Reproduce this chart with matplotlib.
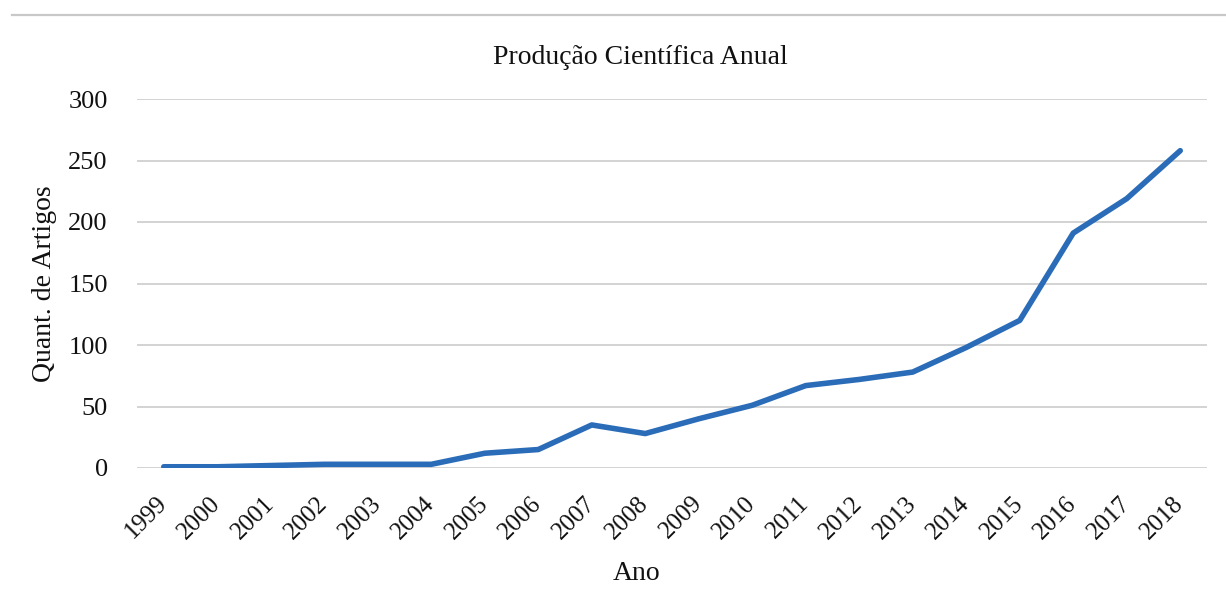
import matplotlib
matplotlib.use("Agg")
import matplotlib.pyplot as plt
from matplotlib.lines import Line2D

# Annual scientific output: number of articles per year
anos = ["1999", "2000", "2001", "2002", "2003", "2004", "2005", "2006", "2007", "2008",
        "2009", "2010", "2011", "2012", "2013", "2014", "2015", "2016", "2017", "2018"]
artigos = [1, 1, 2, 3, 3, 3, 12, 15, 35, 28,
           40, 51, 67, 72, 78, 98, 120, 191, 219, 258]
y_ticks = [0, 50, 100, 150, 200, 250, 300]

plt.rcParams["font.family"] = ["Liberation Serif", "DejaVu Serif"]

W, H, DPI = 1226, 604, 100
fig = plt.figure(figsize=(W / DPI, H / DPI), dpi=DPI)
fig.patch.set_facecolor("white")

# plot area in figure pixels
left_px, right_px, top_px, bottom_px = 137, 1207, 99, 468
ax = fig.add_axes([left_px / W, 1 - bottom_px / H,
                   (right_px - left_px) / W, (bottom_px - top_px) / H])

x = list(range(len(anos)))
ax.plot(x, artigos, color="#2A6CB8", linewidth=4.0, solid_capstyle="round",
        solid_joinstyle="round", zorder=3)

ax.set_xlim(-0.5, len(anos) - 0.5)
ax.set_ylim(0, 300)
ax.set_yticks(y_ticks)
ax.set_yticklabels([str(v) for v in y_ticks], fontsize=19)
ax.set_xticks(x)
ax.set_xticklabels(anos, fontsize=18, rotation=45, ha="right", va="center",
                   rotation_mode="anchor")

ax.grid(axis="y", color="#d0d0d0", linewidth=1.3, zorder=0)
ax.grid(axis="x", visible=False)
for s in ax.spines.values():
    s.set_visible(False)
ax.tick_params(axis="both", length=0, colors="#111111")
ax.tick_params(axis="y", pad=21)
ax.tick_params(axis="x", pad=23)

fig.text(45 / W, 1 - 284 / H, "Quant. de Artigos", fontsize=20, rotation=90,
         ha="center", va="center", color="#111111")
fig.text(637 / W, 1 - 573 / H, "Ano", fontsize=20, ha="center", va="center",
         color="#111111")
fig.text(640 / W, 1 - 57 / H, "Produção Científica Anual", fontsize=20,
         ha="center", va="center", color="#111111")

# thin rule across the top of the figure
fig.add_artist(Line2D([12 / W, 1.0], [1 - 15 / H, 1 - 15 / H],
                      transform=fig.transFigure, color="#c8c8c8", linewidth=1.6))

fig.savefig("out.png", dpi=DPI, facecolor="white")
